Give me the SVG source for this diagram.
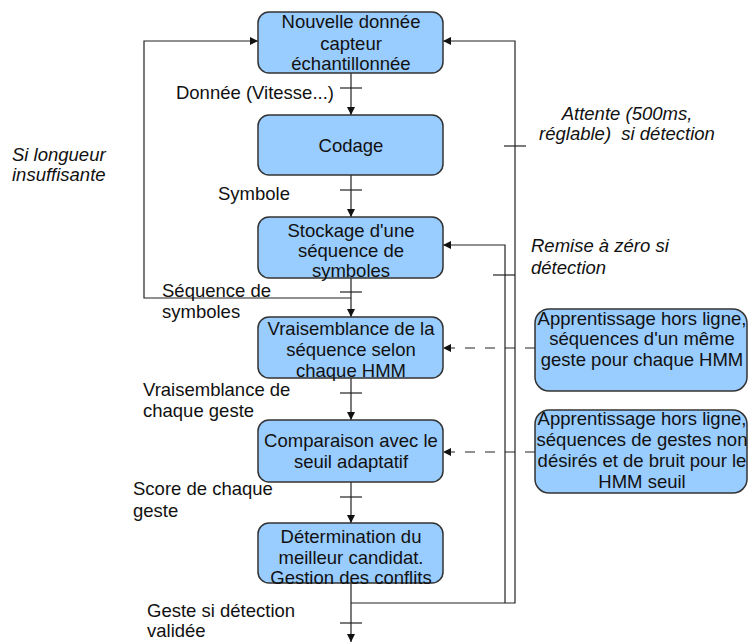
<svg xmlns="http://www.w3.org/2000/svg" width="748" height="642" viewBox="0 0 748 642">
<defs>
<style>
.box{fill:#99ccff;stroke:#333;stroke-width:1.5}
.t{font-family:"Liberation Sans",Arial,sans-serif;font-size:18.5px;fill:#111}
.c{text-anchor:middle}
.i{font-style:italic}
.ln{fill:none;stroke:#222;stroke-width:1.2}
.d{stroke-dasharray:10 10}
</style>
<marker id="ar" viewBox="0 0 10 10" refX="10" refY="5" markerWidth="8" markerHeight="8" markerUnits="userSpaceOnUse" orient="auto">
<path d="M0,0 L10,5 L0,10 z" fill="#111"/>
</marker>
</defs>
<rect width="748" height="642" fill="#fff"/>
<g id="connectors">
<line class="ln" x1="351" y1="73" x2="351" y2="115" marker-end="url(#ar)"/>
<line class="ln" x1="340" y1="88" x2="362" y2="88"/>
<line class="ln" x1="351" y1="175" x2="351" y2="217" marker-end="url(#ar)"/>
<line class="ln" x1="340" y1="190" x2="362" y2="190"/>
<line class="ln" x1="351" y1="278" x2="351" y2="317" marker-end="url(#ar)"/>
<line class="ln" x1="340" y1="292" x2="362" y2="292"/>
<line class="ln" x1="351" y1="378" x2="351" y2="420" marker-end="url(#ar)"/>
<line class="ln" x1="340" y1="393" x2="362" y2="393"/>
<line class="ln" x1="351" y1="482" x2="351" y2="523" marker-end="url(#ar)"/>
<line class="ln" x1="340" y1="497" x2="362" y2="497"/>
<line class="ln" x1="351" y1="583" x2="351" y2="642" marker-end="url(#ar)"/>
<line class="ln" x1="340" y1="623" x2="362" y2="623"/>
<polyline class="ln" points="351,298 144,298 144,41 258,41" marker-end="url(#ar)"/>
<polyline class="ln" points="351,603 515,603 515,41 443,41" marker-end="url(#ar)"/>
<line class="ln" x1="504" y1="146" x2="526" y2="146"/>
<polyline class="ln" points="505,603 505,245 443,245" marker-end="url(#ar)"/>
<line class="ln" x1="493" y1="275" x2="515" y2="275"/>
<line class="ln d" x1="535" y1="348" x2="443" y2="348" marker-end="url(#ar)"/>
<line class="ln d" x1="535" y1="452" x2="443" y2="452" marker-end="url(#ar)"/>
</g>
<g id="n1"><rect class="box" x="258" y="12" width="185" height="61" rx="11"/>
<text class="t c" x="351" y="28">Nouvelle donnée</text><text class="t c" x="351" y="50">capteur</text><text class="t c" x="351" y="70">échantillonnée</text></g>
<g id="n2"><rect class="box" x="258" y="115" width="185" height="60" rx="11"/>
<text class="t c" x="351" y="152">Codage</text></g>
<g id="n3"><rect class="box" x="258" y="217" width="185" height="61" rx="11"/>
<text class="t c" x="351" y="237">Stockage d'une</text><text class="t c" x="351" y="257">séquence de</text><text class="t c" x="351" y="277">symboles</text></g>
<g id="n4"><rect class="box" x="258" y="317" width="185" height="61" rx="11"/>
<text class="t c" x="351" y="335">Vraisemblance de la</text><text class="t c" x="351" y="356">séquence selon</text><text class="t c" x="351" y="377">chaque HMM</text></g>
<g id="n5"><rect class="box" x="258" y="420" width="185" height="62" rx="11"/>
<text class="t c" x="351" y="447">Comparaison avec le</text><text class="t c" x="351" y="468">seuil adaptatif</text></g>
<g id="n6"><rect class="box" x="258" y="523" width="185" height="60" rx="11"/>
<text class="t c" x="351" y="543">Détermination du</text><text class="t c" x="351" y="564">meilleur candidat.</text><text class="t c" x="351" y="584">Gestion des conflits</text></g>
<g id="n7"><rect class="box" x="535" y="309" width="212" height="82" rx="14"/>
<text class="t c" x="642" y="325">Apprentissage hors ligne,</text><text class="t c" x="642" y="345">séquences d'un même</text><text class="t c" x="642" y="366">geste pour chaque HMM</text></g>
<g id="n8"><rect class="box" x="535" y="410" width="212" height="83" rx="14"/>
<text class="t c" x="642" y="425">Apprentissage hors ligne,</text><text class="t c" x="642" y="446">séquences de gestes non</text><text class="t c" x="642" y="467">désirés et de bruit pour le</text><text class="t c" x="642" y="488">HMM seuil</text></g>
<g id="labels">
<text class="t" x="334" y="99" text-anchor="end">Donnée (Vitesse...)</text>
<text class="t" x="218" y="200">Symbole</text>
<text class="t" x="162" y="297">Séquence de</text>
<text class="t" x="162" y="318">symboles</text>
<text class="t" x="143" y="396">Vraisemblance de</text>
<text class="t" x="143" y="417">chaque geste</text>
<text class="t" x="133" y="495">Score de chaque</text>
<text class="t" x="133" y="517">geste</text>
<text class="t" x="147" y="617">Geste si détection</text>
<text class="t" x="147" y="637">validée</text>
<text class="t i" x="12" y="161">Si longueur</text>
<text class="t i" x="12" y="181">insuffisante</text>
<text class="t i c" x="627" y="120">Attente (500ms,</text>
<text class="t i c" x="627" y="140" xml:space="preserve">réglable)  si détection</text>
<text class="t i" x="531" y="252">Remise à zéro si</text>
<text class="t i" x="531" y="274">détection</text>
</g>
</svg>
